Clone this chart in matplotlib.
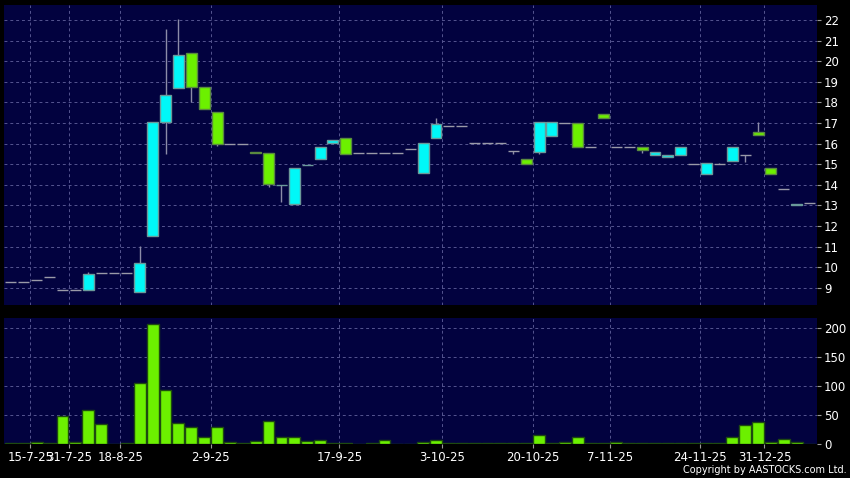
"""Candlestick price chart with volume panel."""

import matplotlib
matplotlib.use("Agg")
import matplotlib.pyplot as plt
import numpy as np

# one row per period: open, close, high, low, volume
opens = [9.30, 9.30, 9.36, 9.52, 8.91, 8.88, 8.89, 9.70, 9.70, 9.70,
         8.78, 11.50, 17.03, 18.68, 20.38, 18.73, 17.52, 15.96, 15.96, 15.60,
         15.53, 13.97, 13.05, 14.94, 15.24, 16.01, 16.26, 15.53, 15.53, 15.53,
         15.53, 15.72, 14.56, 16.26, 16.84, 16.84, 16.01, 16.01, 16.01, 15.62,
         15.24, 15.58, 16.38, 17.02, 16.98, 15.85, 17.42, 15.82, 15.82, 15.82,
         15.43, 15.33, 15.43, 14.99, 14.51, 15.03, 15.14, 15.43, 16.58, 14.80,
         13.81, 13.02, 13.10]
closes = [9.30, 9.30, 9.36, 9.52, 8.91, 8.88, 9.65, 9.70, 9.70, 9.70,
          10.19, 17.03, 18.34, 20.28, 18.73, 17.66, 15.96, 15.96, 15.96, 15.53,
          14.02, 13.99, 14.80, 14.96, 15.82, 16.19, 15.51, 15.53, 15.53, 15.53,
          15.53, 15.72, 16.01, 16.94, 16.84, 16.84, 16.01, 16.01, 16.01, 15.62,
          15.01, 17.03, 17.03, 17.02, 15.82, 15.85, 17.24, 15.82, 15.82, 15.67,
          15.58, 15.43, 15.82, 14.99, 15.04, 15.03, 15.82, 15.43, 16.40, 14.53,
          13.81, 13.07, 13.10]
highs = [9.30, 9.30, 9.36, 9.52, 8.91, 8.88, 9.77, 9.70, 9.70, 9.70,
         11.03, 17.03, 21.56, 22.05, 20.38, 18.73, 17.52, 15.96, 15.96, 15.60,
         15.53, 13.99, 14.80, 14.96, 15.82, 16.19, 16.26, 15.53, 15.53, 15.53,
         15.53, 15.72, 16.01, 17.26, 16.84, 16.84, 16.01, 16.01, 16.01, 15.62,
         15.24, 17.03, 17.03, 17.02, 16.98, 15.85, 17.42, 15.82, 15.82, 15.82,
         15.58, 15.43, 15.82, 14.99, 15.04, 15.06, 15.82, 15.43, 17.05, 14.80,
         13.81, 13.07, 13.10]
lows = [9.30, 9.30, 9.36, 9.52, 8.91, 8.88, 8.89, 9.70, 9.70, 9.70,
        8.78, 11.50, 15.51, 18.68, 18.00, 17.66, 15.90, 15.96, 15.96, 15.53,
        13.91, 13.16, 13.05, 14.94, 15.24, 16.01, 15.51, 15.53, 15.53, 15.53,
        15.53, 15.72, 14.56, 16.26, 16.84, 16.84, 16.01, 16.01, 16.01, 15.51,
        15.01, 15.51, 16.38, 17.02, 15.82, 15.85, 17.24, 15.82, 15.82, 15.56,
        15.43, 15.33, 15.43, 14.99, 14.51, 15.00, 15.14, 15.12, 16.40, 14.53,
        13.81, 13.02, 13.10]
volumes = [0.8, 0.8, 3.5, 1.7, 48, 2.3, 58, 34, 0, 0.8,
           105, 207, 93, 35, 28, 11.7, 28.5, 3.5, 1.7, 4.7,
           40, 12, 11.7, 4, 6.4, 1.7, 0.8, 0, 1.7, 5.8,
           0, 0, 2.3, 6, 0.8, 0.8, 0.8, 1.7, 1.7, 1.7,
           1.7, 14.6, 1.7, 2.3, 11.7, 1.7, 0.8, 3.5, 0.8, 1.7,
           1.2, 0.8, 1.7, 1.7, 0.8, 1.7, 11, 33, 38, 3,
           7.6, 2, 0]

tick_pos = [1.5, 4.5, 8.5, 15.5, 25.5, 33.5, 40.5, 46.5, 53.5, 58.5]
tick_labels = ["15-7-25", "31-7-25", "18-8-25", "2-9-25", "17-9-25",
               "3-10-25", "20-10-25", "7-11-25", "24-11-25", "31-12-25"]

BG = "#000000"
PANEL = "#02023f"
GRID = "#555590"
UP = "#00f8f8"
DOWN = "#6cf000"
WICK = "#8c8ca8"

o = np.array(opens)
c = np.array(closes)
x = np.arange(len(o))

fig = plt.figure(figsize=(8.5, 4.78), dpi=100, facecolor=BG)
ax1 = fig.add_axes([0.0047, 0.3609, 0.9565, 0.6276], facecolor=PANEL)
ax2 = fig.add_axes([0.0047, 0.0711, 0.9565, 0.2626], facecolor=PANEL)

# price panel
ax1.vlines(x, lows, highs, color=WICK, linewidth=1.0, zorder=2)
colors = np.where(c > o, UP, np.where(c < o, DOWN, "#9a9aa8"))
edges = np.where(c > o, "#6a9a9a", np.where(c < o, "#5a8a40", "#9a9aa8"))
ax1.bar(x, np.abs(c - o), bottom=np.minimum(o, c), width=0.85,
        color=colors, edgecolor=edges, linewidth=1.0, zorder=3)
ax1.set_xlim(-0.54, 62.58)
ax1.set_ylim(8.14, 22.70)
ax1.set_yticks(range(9, 23))
ax1.set_xticks(tick_pos)
ax1.tick_params(axis="x", bottom=False, labelbottom=False)

# volume panel
ax2.bar(x, volumes, width=0.92, color=DOWN, edgecolor="#1e4a10",
        linewidth=1.0, zorder=3)
ax2.set_xlim(-0.54, 62.58)
ax2.set_ylim(-0.8, 217)
ax2.set_yticks([0, 50, 100, 150, 200])
ax2.set_xticks(tick_pos)
ax2.set_xticklabels(tick_labels)

for ax in (ax1, ax2):
    ax.yaxis.tick_right()
    ax.grid(True, color=GRID, linestyle=(0, (3, 3)), linewidth=0.7, zorder=0)
    ax.set_axisbelow(True)
    for s in ax.spines.values():
        s.set_visible(False)
    ax.tick_params(axis="y", colors="#9a9a9a", labelcolor="white",
                   labelsize=8.5, length=3, pad=2)
    ax.tick_params(axis="x", colors="#9a9a9a", labelcolor="white",
                   labelsize=8.5, length=3, pad=2)

fig.text(0.996, 0.006, "Copyright by AASTOCKS.com Ltd.", color="white",
         fontsize=7, ha="right", va="bottom")

plt.savefig("out.png", dpi=100, facecolor=BG)
plt.close()
